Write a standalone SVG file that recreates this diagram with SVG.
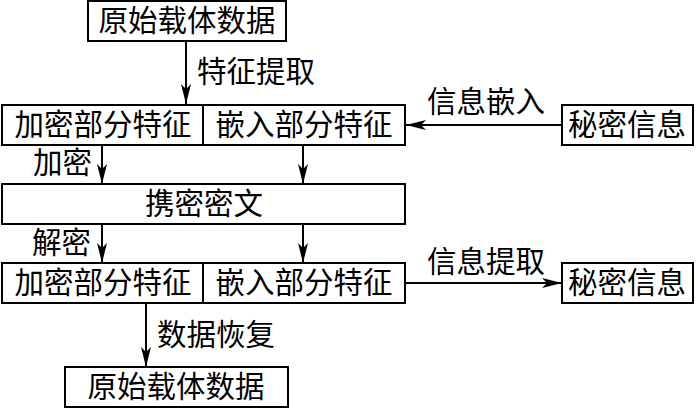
<svg xmlns="http://www.w3.org/2000/svg" width="700" height="408" viewBox="0 0 700 408">
<style>
.box{fill:#fff;stroke:#000;stroke-width:2}
.t{font-family:"Liberation Serif","Noto Sans CJK SC",serif;font-size:29.5px;fill:#000;text-anchor:middle;dominant-baseline:central}
.lbl{font-family:"Liberation Serif","Noto Sans CJK SC",serif;font-size:29.5px;fill:#000;dominant-baseline:central}
.c{stroke:#000;stroke-width:2;fill:none;marker-end:url(#ah)}
</style>
<defs>
<marker id="ah" viewBox="0 0 20 10" refX="20" refY="5" markerWidth="20" markerHeight="10" markerUnits="userSpaceOnUse" orient="auto">
<path d="M0,0 L20,5 L0,10 L5,5 Z" fill="#000"/>
</marker>
</defs>
<rect width="700" height="408" fill="#fff"/>
<g id="connectors">
<line class="c" x1="186" y1="41" x2="186" y2="104"/>
<line class="c" x1="562" y1="125" x2="406" y2="125"/>
<line class="c" x1="102" y1="145" x2="102" y2="184"/>
<line class="c" x1="303" y1="145" x2="303" y2="184"/>
<line class="c" x1="102" y1="224" x2="102" y2="263"/>
<line class="c" x1="303" y1="224" x2="303" y2="263"/>
<line class="c" x1="146" y1="303" x2="146" y2="367"/>
<line class="c" x1="405" y1="283" x2="562" y2="283"/>
<text class="lbl" x="197" y="72">特征提取</text>
<text class="lbl" x="427" y="102">信息嵌入</text>
<text class="lbl" x="33" y="163">加密</text>
<text class="lbl" x="32" y="243">解密</text>
<text class="lbl" x="157" y="335">数据恢复</text>
<text class="lbl" x="427" y="262">信息提取</text>
</g>
<g id="n-orig-top"><rect class="box" x="88" y="1" width="198" height="40"/><text class="t" x="187" y="21">原始载体数据</text></g>
<g id="n-enc1"><rect class="box" x="2" y="105" width="201" height="40"/><text class="t" x="103" y="125">加密部分特征</text></g>
<g id="n-emb1"><rect class="box" x="203" y="105" width="202" height="40"/><text class="t" x="304" y="125">嵌入部分特征</text></g>
<g id="n-secret1"><rect class="box" x="562" y="105" width="131" height="40"/><text class="t" x="627" y="125">秘密信息</text></g>
<g id="n-cipher"><rect class="box" x="2" y="184" width="403" height="40"/><text class="t" x="204" y="204">携密密文</text></g>
<g id="n-enc2"><rect class="box" x="2" y="263" width="201" height="40"/><text class="t" x="103" y="283">加密部分特征</text></g>
<g id="n-emb2"><rect class="box" x="203" y="263" width="202" height="40"/><text class="t" x="304" y="283">嵌入部分特征</text></g>
<g id="n-secret2"><rect class="box" x="562" y="263" width="131" height="40"/><text class="t" x="627" y="283">秘密信息</text></g>
<g id="n-orig-bottom"><rect class="box" x="65" y="367" width="223" height="40"/><text class="t" x="176" y="387">原始载体数据</text></g>
</svg>
